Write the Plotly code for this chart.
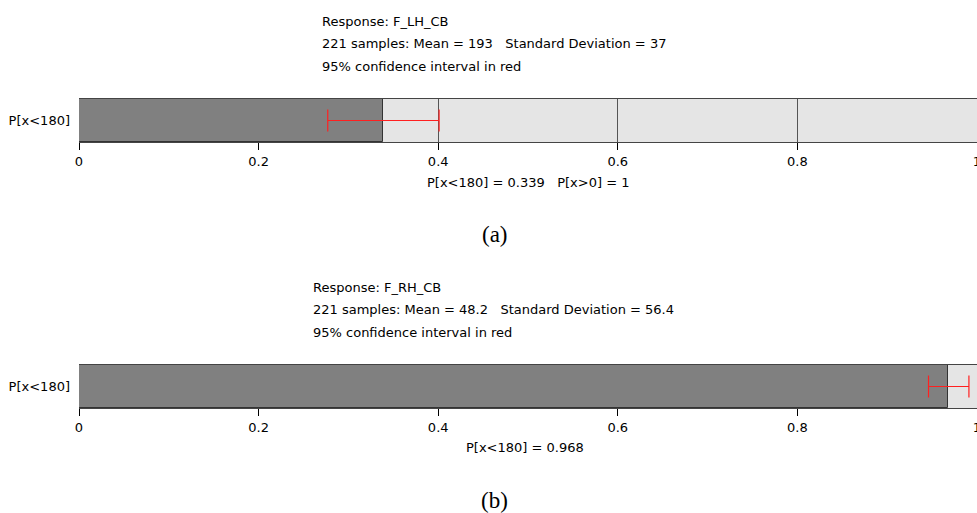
import plotly.graph_objects as go

# ---- data ----
category = ["P[x<180]"]
responses = ["F_LH_CB", "F_RH_CB"]
samples = [221, 221]
means = ["193", "48.2"]
sds = ["37", "56.4"]
probs = [0.339, 0.968]
ci_low = [0.277, 0.946]
ci_high = [0.401, 0.991]
summary = ["P[x<180] = 0.339\u00a0\u00a0\u00a0P[x>0] = 1", "P[x<180] = 0.968"]
panel_labels = ["(a)", "(b)"]
tick_vals = [0, 0.2, 0.4, 0.6, 0.8, 1]
tick_text = ["0", "0.2", "0.4", "0.6", "0.8", "1"]

W, H = 977, 513
FONT = "DejaVu Sans"
FS = 13

def py(pix):
    return 1 - pix / H

fig = go.Figure()

bands = [(99, 142), (365, 408)]
text_x = [320, 311]
text_y0 = [21, 287]
summary_xy = [(528, 182), (525, 447)]
label_y = [234, 500]

for i in range(2):
    xa = "x" if i == 0 else "x2"
    ya = "y" if i == 0 else "y2"
    fig.add_trace(go.Bar(
        x=[probs[i]], y=category, orientation="h", width=1.0,
        marker=dict(color="#808080", line=dict(color="#333333", width=1)),
        error_x=dict(type="data", symmetric=False,
                     array=[ci_high[i] - probs[i]],
                     arrayminus=[probs[i] - ci_low[i]],
                     color="#ff2020", thickness=1.2, width=11),
        xaxis=xa, yaxis=ya, showlegend=False, hoverinfo="x",
    ))

axis_common = dict(
    range=[0, 1.0], tickvals=tick_vals, ticktext=tick_text,
    showgrid=True, gridcolor="#555555", gridwidth=1,
    showline=True, mirror=True, linecolor="#444444", linewidth=1,
    ticks="outside", ticklen=7, tickcolor="#000000",
    tickfont=dict(family=FONT, size=FS, color="#000000"),
    ticklabeloverflow="allow",
    zeroline=False, domain=[79 / W, 1.0], automargin=False,
)
yaxis_common = dict(
    type="category", range=[-0.5, 0.5], showgrid=False, zeroline=False,
    ticks="", tickfont=dict(family=FONT, size=FS, color="#000000"),
    showline=False, ticklabelstandoff=8, automargin=False,
)

fig.update_layout(
    width=W, height=H,
    margin=dict(l=0, r=0, t=0, b=0),
    paper_bgcolor="white", plot_bgcolor="#e5e5e5",
    xaxis=dict(**axis_common, anchor="y"),
    yaxis=dict(**yaxis_common, domain=[py(bands[0][1]), py(bands[0][0])], anchor="x"),
    xaxis2=dict(**axis_common, anchor="y2"),
    yaxis2=dict(**yaxis_common, domain=[py(bands[1][1]), py(bands[1][0])], anchor="x2"),
    bargap=0,
)

anns = []
for i in range(2):
    lines = [
        f"Response: {responses[i]}",
        f"{samples[i]} samples: Mean = {means[i]}\u00a0\u00a0\u00a0Standard Deviation = {sds[i]}",
        "95% confidence interval in red",
    ]
    for k, t in enumerate(lines):
        anns.append(dict(text=t, x=text_x[i] / W, y=py(text_y0[i] + k * 22.5),
                         xref="paper", yref="paper", xanchor="left", yanchor="middle",
                         showarrow=False, font=dict(family=FONT, size=FS, color="#000000")))
    sx, sy = summary_xy[i]
    anns.append(dict(text=summary[i], x=sx / W, y=py(sy), xref="paper", yref="paper",
                     xanchor="center", yanchor="middle", showarrow=False,
                     font=dict(family=FONT, size=FS, color="#000000")))
    anns.append(dict(text=panel_labels[i], x=495 / W, y=py(label_y[i]), xref="paper",
                     yref="paper", xanchor="center", yanchor="middle", showarrow=False,
                     font=dict(family="Liberation Serif", size=23, color="#000000")))
fig.update_layout(annotations=anns)

fig.write_html("out.html")
